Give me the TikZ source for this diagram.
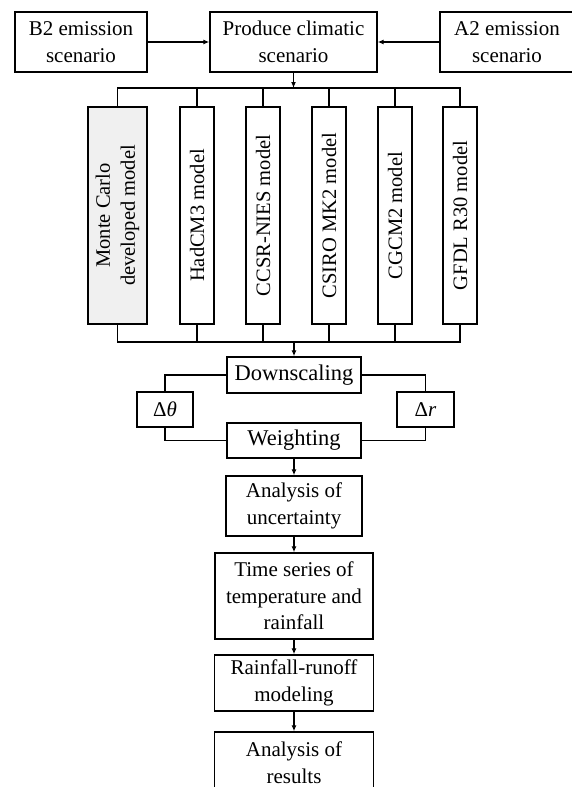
\documentclass[tikz,border=0pt]{standalone}
\usepackage{fontspec}
\setmainfont{Liberation Serif}
\usetikzlibrary{arrows.meta}
\begin{document}
\begin{tikzpicture}[x=1pt,y=-1pt,
  box/.style={draw, line width=1.4pt, inner sep=0pt, align=center, font=\fontsize{21}{26.5}\selectfont},
  bigbox/.style={box, font=\fontsize{22.5}{26.5}\selectfont},
  mbox/.style={box, rotate=90, minimum width=217pt, font=\fontsize{20.5}{25}\selectfont},
  arr/.style={line width=1.4pt, -{Latex[length=6pt,width=5pt]}},
  ln/.style={line width=1.4pt}]
\useasboundingbox (0,0) rectangle (572,787);
% top row
\node[box, minimum width=132pt, minimum height=60pt] (b2) at (81,42) {B2 emission\\scenario};
\node[box, minimum width=167pt, minimum height=60pt] (prod) at (293.5,42) {Produce climatic\\scenario};
\node[box, minimum width=134pt, minimum height=60pt] (a2) at (507,42) {A2 emission\\scenario};
\draw[arr] (b2) -- (prod);
\draw[arr] (a2) -- (prod);
% models
\node[mbox, minimum height=59pt, fill=black!6] (mc) at (117.5,215.5) {Monte Carlo\\developed model};
\node[mbox, minimum height=34pt] (had) at (197,215.5) {HadCM3 model};
\node[mbox, minimum height=34pt] (ccsr) at (263,215.5) {CCSR-NIES model};
\node[mbox, minimum height=34pt] (csiro) at (329,215.5) {CSIRO MK2 model};
\node[mbox, minimum height=34pt] (cgcm) at (395,215.5) {CGCM2 model};
\node[mbox, minimum height=34pt] (gfdl) at (460,215.5) {GFDL R30 model};
\coordinate (bt) at (294,88);
\coordinate (bb) at (294,342);
\draw[arr] (prod.south) -- (prod.south |- bt);
\draw[ln] (mc.east) -- (mc.east |- bt) -- (gfdl.east |- bt) -- (gfdl.east);
\draw[ln] (mc.west) -- (mc.west |- bb) -- (gfdl.west |- bb) -- (gfdl.west);
\foreach \n in {had,ccsr,csiro,cgcm}{
  \draw[ln] (\n.east) -- (\n.east |- bt);
  \draw[ln] (\n.west) -- (\n.west |- bb);
}
% downscaling
\node[bigbox, minimum width=134pt, minimum height=36pt] (down) at (294,375) {Downscaling};
\node[box, minimum width=56pt, minimum height=35pt] (dth) at (165,409.5) {Δ\textit{θ}};
\node[box, minimum width=57pt, minimum height=35pt] (dr) at (425.5,409.5) {Δ\textit{r}};
\node[bigbox, minimum width=134pt, minimum height=35pt] (wt) at (294,440.5) {Weighting};
\draw[arr] (bb) -- (down.north);
\draw[ln] (down.west) -| (dth.north);
\draw[ln] (dth.south) |- (wt.west);
\draw[ln] (down.east) -| (dr.north);
\draw[ln] (dr.south) |- (wt.east);
% column
\node[box, minimum width=136pt, minimum height=60pt] (aou) at (294,506) {Analysis of\\uncertainty};
\node[box, minimum width=158pt, minimum height=86pt] (ts) at (294,596) {Time series of\\temperature and\\rainfall};
\node[box, minimum width=159pt, minimum height=56pt] (rr) at (294,683) {Rainfall-runoff\\modeling};
\node[box, minimum width=159pt, minimum height=61pt] (res) at (294,762.5) {Analysis of\\results};
\draw[arr] (wt) -- (aou);
\draw[arr] (aou) -- (ts);
\draw[arr] (ts) -- (rr);
\draw[arr] (rr) -- (res);
\end{tikzpicture}
\end{document}
